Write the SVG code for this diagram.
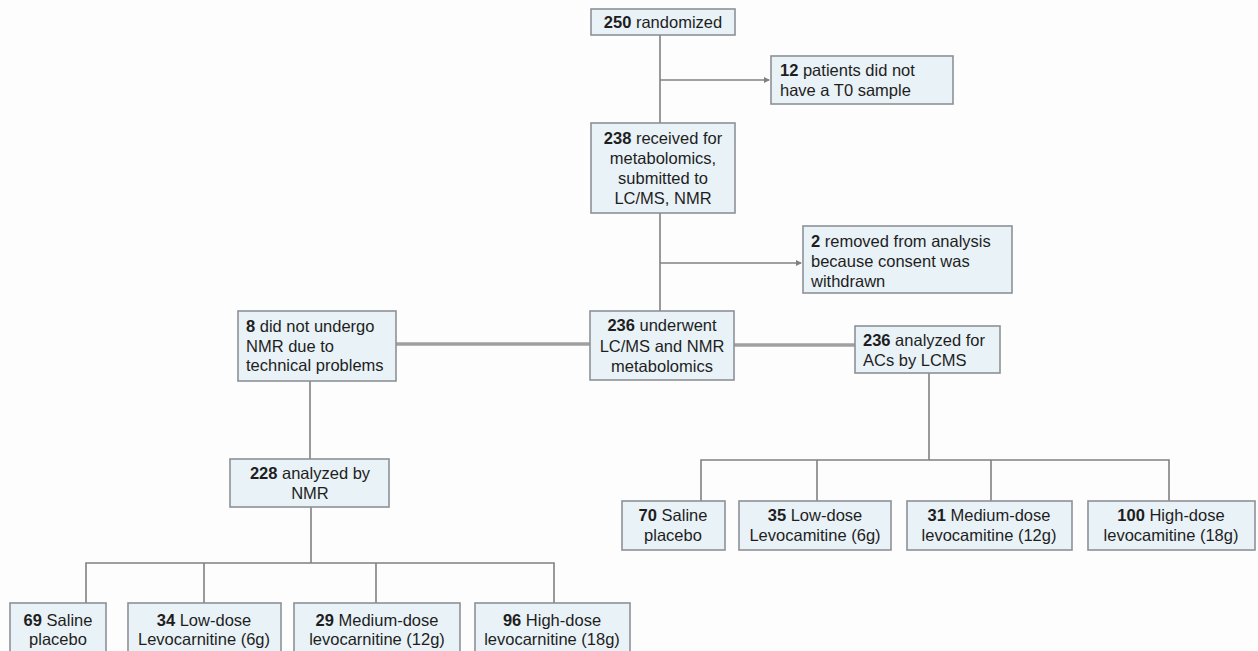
<svg xmlns="http://www.w3.org/2000/svg" width="1258" height="651" viewBox="0 0 1258 651">
<style>
.box{fill:#e9f2f7;stroke:#8c9196;stroke-width:1.6}
.t{font-family:"Liberation Sans",Arial,sans-serif;font-size:16.5px;fill:#1e1e1e}
.c{text-anchor:middle}
.b{font-weight:bold}
.ln{stroke:#808080;stroke-width:1.6;fill:none}
.thick{stroke:#a0a0a0;stroke-width:3.5;fill:none}
</style>
<defs>
<marker id="arr" markerWidth="6" markerHeight="6" refX="5" refY="3" orient="auto" markerUnits="userSpaceOnUse">
<path d="M0,0 L6,3 L0,6 Z" fill="#808080"/>
</marker>
</defs>
<rect width="1258" height="651" fill="#fdfdfd"/>
<g id="connectors">
<path class="ln" d="M660,35 V123"/>
<path class="ln" d="M660,80 H769" marker-end="url(#arr)"/>
<path class="ln" d="M660,213 V311"/>
<path class="ln" d="M660,263 H801" marker-end="url(#arr)"/>
<path class="thick" d="M396,344 H590"/>
<path class="thick" d="M734,345 H855"/>
<path class="ln" d="M310,381 V459"/>
<path class="ln" d="M311,507 V563"/>
<path class="ln" d="M86,603 V563 H554 V603"/>
<path class="ln" d="M204,563 V603"/>
<path class="ln" d="M376,563 V603"/>
<path class="ln" d="M929,373 V460"/>
<path class="ln" d="M701,501 V460 H1169 V501"/>
<path class="ln" d="M817,460 V501"/>
<path class="ln" d="M991,460 V501"/>
</g>
<g id="n250">
<rect class="box" x="591" y="9" width="144" height="26"/>
<text class="t c" x="663" y="28"><tspan class="b">250</tspan> randomized</text>
</g>
<g id="n12">
<rect class="box" x="771" y="56" width="182" height="48"/>
<text class="t" x="780" y="76"><tspan class="b">12</tspan> patients did not</text>
<text class="t" x="780" y="96">have a T0 sample</text>
</g>
<g id="n238">
<rect class="box" x="591" y="123" width="144" height="90"/>
<text class="t c" x="663" y="144"><tspan class="b">238</tspan> received for</text>
<text class="t c" x="663" y="164">metabolomics,</text>
<text class="t c" x="663" y="184">submitted to</text>
<text class="t c" x="663" y="204">LC/MS, NMR</text>
</g>
<g id="n2">
<rect class="box" x="803" y="226" width="209" height="67"/>
<text class="t" x="811" y="247"><tspan class="b">2</tspan> removed from analysis</text>
<text class="t" x="811" y="267">because consent was</text>
<text class="t" x="811" y="287">withdrawn</text>
</g>
<g id="n236a">
<rect class="box" x="590" y="311" width="144" height="69"/>
<text class="t c" x="662" y="331"><tspan class="b">236</tspan> underwent</text>
<text class="t c" x="662" y="352">LC/MS and NMR</text>
<text class="t c" x="662" y="372">metabolomics</text>
</g>
<g id="n8">
<rect class="box" x="238" y="311" width="158" height="70"/>
<text class="t" x="246" y="332"><tspan class="b">8</tspan> did not undergo</text>
<text class="t" x="246" y="352">NMR due to</text>
<text class="t" x="246" y="371">technical problems</text>
</g>
<g id="n236b">
<rect class="box" x="855" y="326" width="145" height="47"/>
<text class="t" x="863" y="346"><tspan class="b">236</tspan> analyzed for</text>
<text class="t" x="863" y="366">ACs by LCMS</text>
</g>
<g id="n228">
<rect class="box" x="230" y="459" width="159" height="48"/>
<text class="t c" x="310" y="479"><tspan class="b">228</tspan> analyzed by</text>
<text class="t c" x="310" y="499">NMR</text>
</g>
<g id="n70">
<rect class="box" x="622" y="501" width="103" height="49"/>
<text class="t c" x="673" y="521"><tspan class="b">70</tspan> Saline</text>
<text class="t c" x="673" y="541">placebo</text>
</g>
<g id="n35">
<rect class="box" x="739" y="501" width="152" height="49"/>
<text class="t c" x="815" y="521"><tspan class="b">35</tspan> Low-dose</text>
<text class="t c" x="815" y="541">Levocamitine (6g)</text>
</g>
<g id="n31">
<rect class="box" x="907" y="501" width="165" height="49"/>
<text class="t c" x="989" y="521"><tspan class="b">31</tspan> Medium-dose</text>
<text class="t c" x="989" y="541">levocamitine (12g)</text>
</g>
<g id="n100">
<rect class="box" x="1088" y="501" width="167" height="49"/>
<text class="t c" x="1171" y="521"><tspan class="b">100</tspan>  High-dose</text>
<text class="t c" x="1171" y="541">levocamitine (18g)</text>
</g>
<g id="n69">
<rect class="box" x="10" y="603" width="96" height="52"/>
<text class="t c" x="58" y="626"><tspan class="b">69</tspan> Saline</text>
<text class="t c" x="58" y="645">placebo</text>
</g>
<g id="n34">
<rect class="box" x="128" y="603" width="153" height="52"/>
<text class="t c" x="204" y="626"><tspan class="b">34</tspan> Low-dose</text>
<text class="t c" x="204" y="645">Levocarnitine (6g)</text>
</g>
<g id="n29">
<rect class="box" x="294" y="603" width="166" height="52"/>
<text class="t c" x="377" y="626"><tspan class="b">29</tspan> Medium-dose</text>
<text class="t c" x="377" y="645">levocarnitine (12g)</text>
</g>
<g id="n96">
<rect class="box" x="475" y="603" width="155" height="52"/>
<text class="t c" x="552" y="626"><tspan class="b">96</tspan> High-dose</text>
<text class="t c" x="552" y="645">levocarnitine (18g)</text>
</g>
</svg>
